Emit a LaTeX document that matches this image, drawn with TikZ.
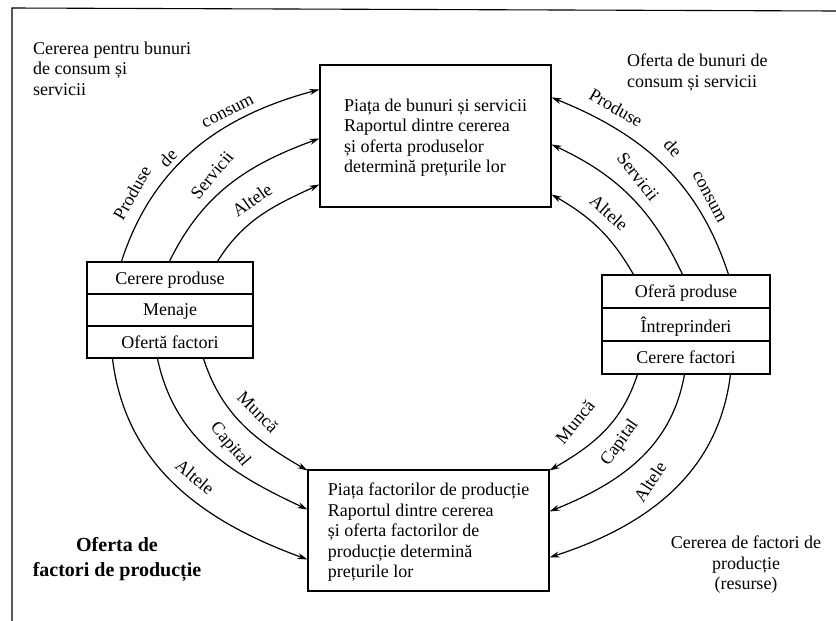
\documentclass[tikz,border=0pt]{standalone}
\usepackage{fontspec}
\setmainfont{Liberation Serif}
\usetikzlibrary{arrows.meta}
\begin{document}
\begin{tikzpicture}[x=1pt,y=1pt,
  every node/.style={inner sep=0pt, font=\fontsize{18}{20.5}\selectfont},
  market/.style={draw, line width=1.1pt, align=left, text depth=0pt},
  cell/.style={draw, line width=1.1pt, minimum height=33pt, text depth=0pt},
  flow/.style={line width=1.2pt, -{Stealth[length=10pt,width=6pt]}},
  caption/.style={align=left},
  arclabel/.style={font=\fontsize{18}{20}\selectfont}
]
\useasboundingbox (0,0) rectangle (836,-621);

% frame of the figure
\draw[line width=1.1pt] (12,-621) -- (12,-8) -- (836,-11);

% markets
\node[market, minimum width=231pt, minimum height=142pt] (pb) at (435.5,-136)
  {Piața de bunuri și servicii\\Raportul dintre cererea\\și oferta produselor\\determină prețurile lor};
\node[market, minimum width=241pt, minimum height=121pt] (pf) at (428.5,-530.5)
  {Piața factorilor de producție\\Raportul dintre cererea\\și oferta factorilor de\\producție determină\\prețurile lor};

% households
\node[cell, minimum width=166pt, minimum height=32pt] (cp) at (170,-278) {Cerere produse};
\node[cell, minimum width=166pt, minimum height=32pt] (me) at (170,-310) {Menaje};
\node[cell, minimum width=166pt, minimum height=32pt] (of) at (170,-342) {Ofertă factori};

% firms
\node[cell, minimum width=168pt] (op) at (686,-291.5) {Oferă produse};
\node[cell, minimum width=168pt] (in) at (686,-324.5) {Întreprinderi};
\node[cell, minimum width=168pt] (cf) at (686,-357.5) {Cerere factori};

% corner captions
\node[caption, anchor=west] (c1) at (33,-68.5) {Cererea pentru bunuri\\de consum și\\servicii};
\node[caption, anchor=west] (c2) at (627,-72.5) {Oferta de bunuri de\\consum și servicii};
\node[align=center] (c3) at (746,-565) {Cererea de factori de\\producție\\(resurse)};
\node[align=center, font=\fontsize{20}{25}\selectfont\bfseries] (c4) at (117,-559.5) {Oferta de\\factori de producție};

% households -> goods market
\draw[flow] ([xshift=35pt]cp.north west) to[out=72,in=195] ([yshift=-25pt]pb.north west);
\draw[flow] ([xshift=83pt]cp.north west) to[out=64,in=200] ([yshift=-74pt]pb.north west);
\draw[flow] ([xshift=131pt]cp.north west) to[out=58,in=205] ([yshift=-120pt]pb.north west);

% firms -> goods market
\draw[flow] ([xshift=127pt]op.north west) to[out=108,in=-22] ([yshift=-33pt]pb.north east);
\draw[flow] ([xshift=81pt]op.north west) to[out=115,in=-25] ([yshift=-80pt]pb.north east);
\draw[flow] ([xshift=32pt]op.north west) to[out=120,in=-30] ([yshift=-130pt]pb.north east);

% households -> factor market
\draw[flow] ([xshift=26pt]of.south west) to[out=-83,in=160] ([yshift=-90pt]pf.north west);
\draw[flow] ([xshift=71pt]of.south west) to[out=-78,in=155] ([yshift=-40pt]pf.north west);
\draw[flow] ([xshift=117pt]of.south west) to[out=-72,in=150] ([yshift=-1pt]pf.north west);

% firms -> factor market
\draw[flow] ([xshift=36pt]cf.south west) to[out=-108,in=30] ([yshift=-1pt]pf.north east);
\draw[flow] ([xshift=83pt]cf.south west) to[out=-100,in=22] ([yshift=-42pt]pf.north east);
\draw[flow] ([xshift=129pt]cf.south west) to[out=-97,in=18] ([yshift=-88pt]pf.north east);

% flow labels
\node[arclabel, rotate=60] (l1) at (132,-193) {Produse};
\node[arclabel, rotate=45] (l2) at (168,-158) {de};
\node[arclabel, rotate=27] (l3) at (228,-112) {consum};
\node[arclabel, rotate=50] (l4) at (212,-175) {Servicii};
\node[arclabel, rotate=35] (l5) at (252,-200) {Altele};

\node[arclabel, rotate=-30] (r1) at (616,-108) {Produse};
\node[arclabel, rotate=-48] (r2) at (673,-148) {de};
\node[arclabel, rotate=-62] (r3) at (709,-197) {consum};
\node[arclabel, rotate=-52] (r4) at (638,-177) {Servicii};
\node[arclabel, rotate=-42] (r5) at (609,-213) {Altele};

\node[arclabel, rotate=-45] (m1) at (258,-412) {Muncă};
\node[arclabel, rotate=-50] (m2) at (230,-445) {Capital};
\node[arclabel, rotate=-40] (m3) at (195,-477) {Altele};

\node[arclabel, rotate=50] (n1) at (575,-422) {Muncă};
\node[arclabel, rotate=55] (n2) at (620,-443) {Capital};
\node[arclabel, rotate=57] (n3) at (650,-482) {Altele};
\end{tikzpicture}
\end{document}
